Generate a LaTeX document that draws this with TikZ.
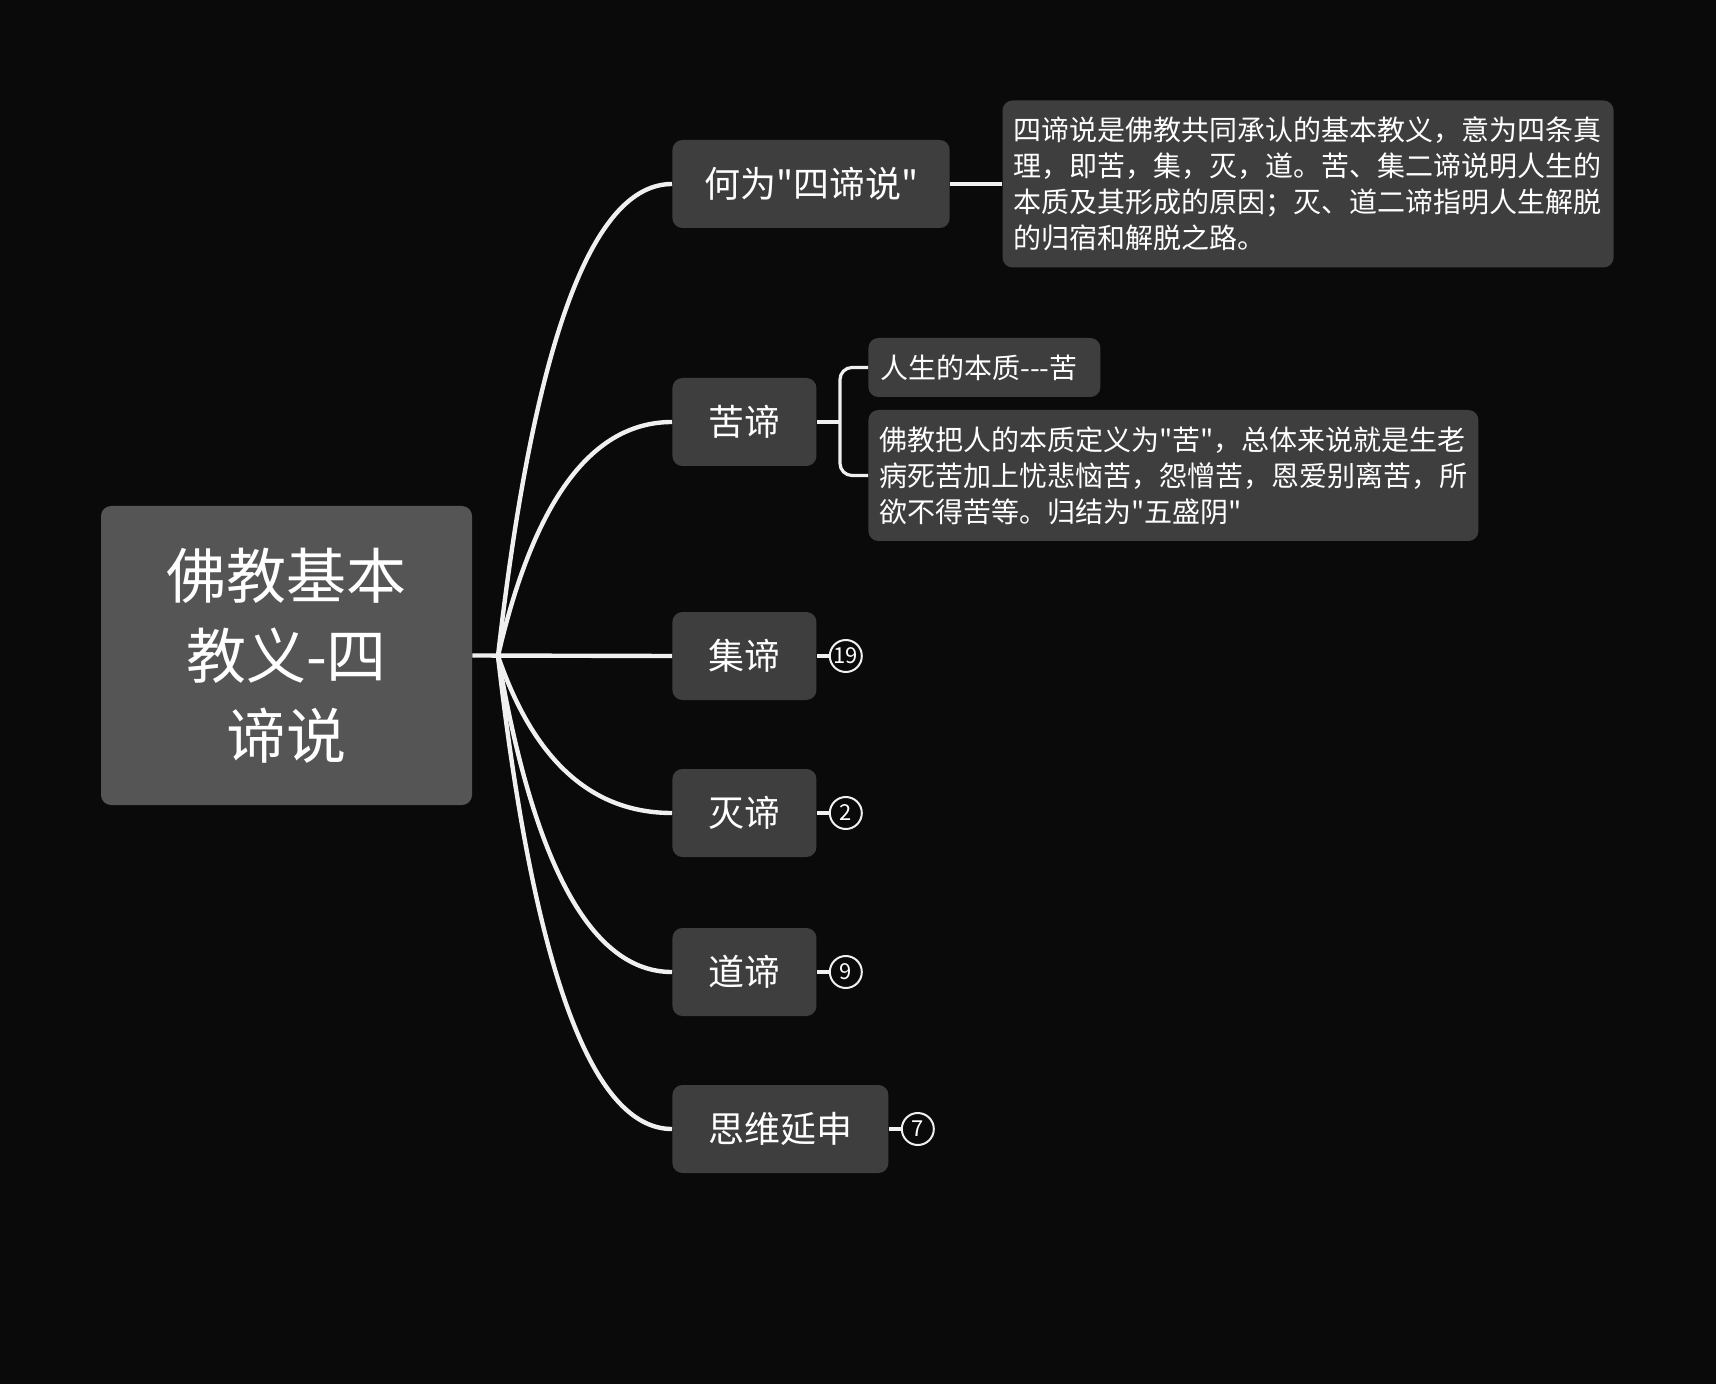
\documentclass[tikz,border=0pt]{standalone}
\usepackage{fontspec}
\newfontfamily\cjk{Noto Sans CJK SC}
\usepackage{xcolor}
\usetikzlibrary{positioning}

\definecolor{bgcol}{HTML}{0A0A0A}
\definecolor{rootcol}{HTML}{555555}
\definecolor{boxcol}{HTML}{3E3E3E}
\definecolor{linecol}{HTML}{F0F0F0}

\tikzset{
  root/.style={fill=rootcol,rounded corners=5pt,text=white,align=center,
    minimum width=185.5pt,minimum height=149.5pt,font=\cjk\fontsize{30}{40}\selectfont},
  topic/.style={fill=boxcol,rounded corners=5pt,text=white,inner xsep=18pt,
    minimum height=44pt,font=\cjk\fontsize{18}{22}\selectfont},
  note/.style={fill=boxcol,rounded corners=5pt,text=white,align=left,
    inner xsep=5.5pt,font=\cjk\fontsize{14}{18}\selectfont},
  count/.style={circle,draw=linecol,line width=1pt,fill=bgcol,text=white,
    minimum size=16pt,inner sep=0pt,font=\cjk\fontsize{11}{11}\selectfont},
  branch/.style={draw=linecol,line width=2.2pt},
  twig/.style={draw=linecol,line width=1.6pt}
}

\begin{document}
\begin{tikzpicture}[x=0.5pt,y=-0.5pt,node distance=6pt]

   \useasboundingbox (0,0) rectangle (1716,1384);
   \fill[bgcol] (0,0) rectangle (1716,1384);

   \node[root] (sidi) at (286.5,655.5) {佛教基本\\教义-四\\谛说};
   \coordinate (hub) at (498,656);

   \node[topic,inner xsep=15.8pt,anchor=west] (hewei) at (672,184) {何为"四谛说"};
   \node[topic,anchor=west] (kudi)  at (672,422) {苦谛};
   \node[topic,anchor=west] (jidi)  at (672,656) {集谛};
   \node[topic,anchor=west] (miedi) at (672,813) {灭谛};
   \node[topic,anchor=west] (daodi) at (672,972) {道谛};
   \node[topic,anchor=west] (siwei) at (672,1129) {思维延申};

   \node[note,text width=294.5pt,minimum height=83.5pt] (heweinote) [right=26pt of hewei]
     {四谛说是佛教共同承认的基本教义，意为四条真\\
      理，即苦，集，灭，道。苦、集二谛说明人生的\\
      本质及其形成的原因；灭、道二谛指明人生解脱\\
      的归宿和解脱之路。};
   \node[note,text width=104pt,inner xsep=6pt,minimum height=29.5pt,anchor=west] (rensheng)
     at (868,367.5) {人生的本质---苦};
   \node[note,text width=294pt,minimum height=65.5pt,anchor=west] (fojiao)
     at (868,475.5)
     {佛教把人的本质定义为"苦"，总体来说就是生老\\
      病死苦加上忧悲恼苦，怨憎苦，恩爱别离苦，所\\
      欲不得苦等。归结为"五盛阴"};
   \coordinate (kubrace) at (840,422);

   \node[count] (jicount)   [right=of jidi]  {19};
   \node[count] (miecount)  [right=of miedi] {2};
   \node[count] (daocount)  [right=of daodi] {9};
   \node[count] (siweicount) [right=of siwei] {7};

   \path[branch]
     (sidi.east) edge (jidi.west)
     (hewei.east) edge (heweinote.west);
   \draw[branch] (hub) .. controls +(36,-315) and +(-80,0) .. (hewei.west);
   \draw[branch] (hub) .. controls +(36,-156) and +(-80,0) .. (kudi.west);
   \draw[branch] (hub) .. controls +(36,105) and +(-80,0) .. (miedi.west);
   \draw[branch] (hub) .. controls +(36,211) and +(-80,0) .. (daodi.west);
   \draw[branch] (hub) .. controls +(36,315) and +(-80,0) .. (siwei.west);

   \draw[twig] (kudi.east) -- (kubrace);
   \draw[twig,rounded corners=6pt] (rensheng.west) -| (kubrace) |- (fojiao.west);
   \path[twig]
     (jidi.east) edge (jicount)
     (miedi.east) edge (miecount)
     (daodi.east) edge (daocount)
     (siwei.east) edge (siweicount);

\end{tikzpicture}
\end{document}
